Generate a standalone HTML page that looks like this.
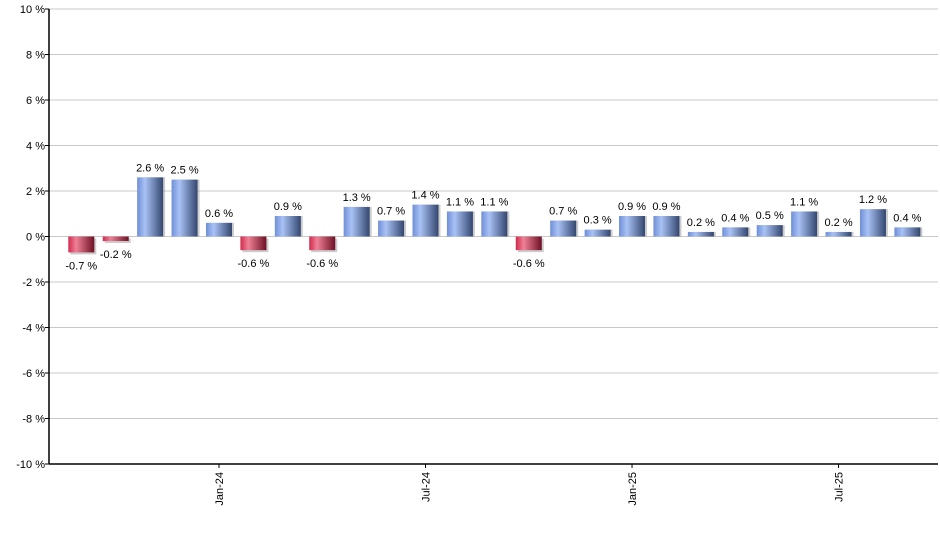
<!DOCTYPE html>
<html><head><meta charset="utf-8"><style>
body{margin:0;background:#fff;}
svg text{font-family:"Liberation Sans",sans-serif;font-size:11px;fill:#000;}
</style></head><body>
<svg id="chart" width="940" height="550">
<defs>
<linearGradient id="gpos" x1="0" x2="1" y1="0" y2="0">
<stop offset="0" stop-color="#6f8fd6"/><stop offset="0.3" stop-color="#a9c2f5"/><stop offset="1" stop-color="#33466f"/></linearGradient>
<linearGradient id="gneg" x1="0" x2="1" y1="0" y2="0">
<stop offset="0" stop-color="#d02a4c"/><stop offset="0.3" stop-color="#ef8196"/><stop offset="1" stop-color="#6e1024"/></linearGradient>
</defs>
<g id="grid"></g><g id="bars"></g><g id="axes"></g>
</svg>
<script>
const months=["Sep-23","Oct-23","Nov-23","Dec-23","Jan-24","Feb-24","Mar-24","Apr-24","May-24","Jun-24","Jul-24","Aug-24","Sep-24","Oct-24","Nov-24","Dec-24","Jan-25","Feb-25","Mar-25","Apr-25","May-25","Jun-25","Jul-25","Aug-25","Sep-25"];
const values=[-0.7,-0.2,2.6,2.5,0.6,-0.6,0.9,-0.6,1.3,0.7,1.4,1.1,1.1,-0.6,0.7,0.3,0.9,0.9,0.2,0.4,0.5,1.1,0.2,1.2,0.4];
const yTicks=[10,8,6,4,2,0,-2,-4,-6,-8,-10];
const xLabels=["Jan-24","Jul-24","Jan-25","Jul-25"];
const NS="http://www.w3.org/2000/svg";
const L=49,R=938,T=9,B=464,yMin=-10,yMax=10;
const y=v=>T+(yMax-v)/(yMax-yMin)*(B-T);
const step=34.42,x0=81.3;
const x=i=>x0+i*step;
const bw=26;
function mk(tag,attrs,parent,txt){const e=document.createElementNS(NS,tag);for(const k in attrs)e.setAttribute(k,attrs[k]);if(txt!==undefined)e.textContent=txt;document.getElementById(parent).appendChild(e);return e;}
yTicks.forEach(t=>{
 const g=mk('line',{x1:L,x2:R,y1:y(t),y2:y(t),stroke:'#c8c8c8','stroke-width':1},'grid');
 
 
 const tx=mk('text',{x:45,y:y(t)+4,'text-anchor':'end'},'axes',t+' %');
 
 
 const tk=mk('line',{x1:L-4,x2:L,y1:y(t),y2:y(t),stroke:'#000'},'axes');
 
 
});
values.forEach((v,i)=>{
 const top=Math.min(y(v),y(0)),h=Math.abs(y(v)-y(0));
 const sh=mk('rect',{x:x(i)-bw/2+2,y:top+(v>=0?0:2),width:bw,height:h,fill:'#999','fill-opacity':0.5},'bars');
 
 
 const r=mk('rect',{x:x(i)-bw/2,y:top,width:bw,height:h,fill:v>=0?'url(#gpos)':'url(#gneg)'},'bars');
 
 
 const ly=v>=0?y(v)-6:y(v)+17;
 const t=mk('text',{x:x(i),y:ly,'text-anchor':'middle'},'bars',v.toFixed(1)+' %');
 
 
});
const ya=mk('line',{x1:L,x2:L,y1:T,y2:B,stroke:'#000','stroke-width':1.5},'axes');


const xa=mk('line',{x1:L,x2:R,y1:B,y2:B,stroke:'#000','stroke-width':1.5},'axes');


xLabels.forEach(lb=>{
 const i=months.indexOf(lb);
 const tk=mk('line',{x1:x(i),x2:x(i),y1:B,y2:B+4,stroke:'#000'},'axes');
 
 
 const t=mk('text',{x:0,y:0,'text-anchor':'end',transform:`translate(${x(i)+4},${B+8}) rotate(-90)`},'axes',lb);
 
 
});
</script>
</body></html>
